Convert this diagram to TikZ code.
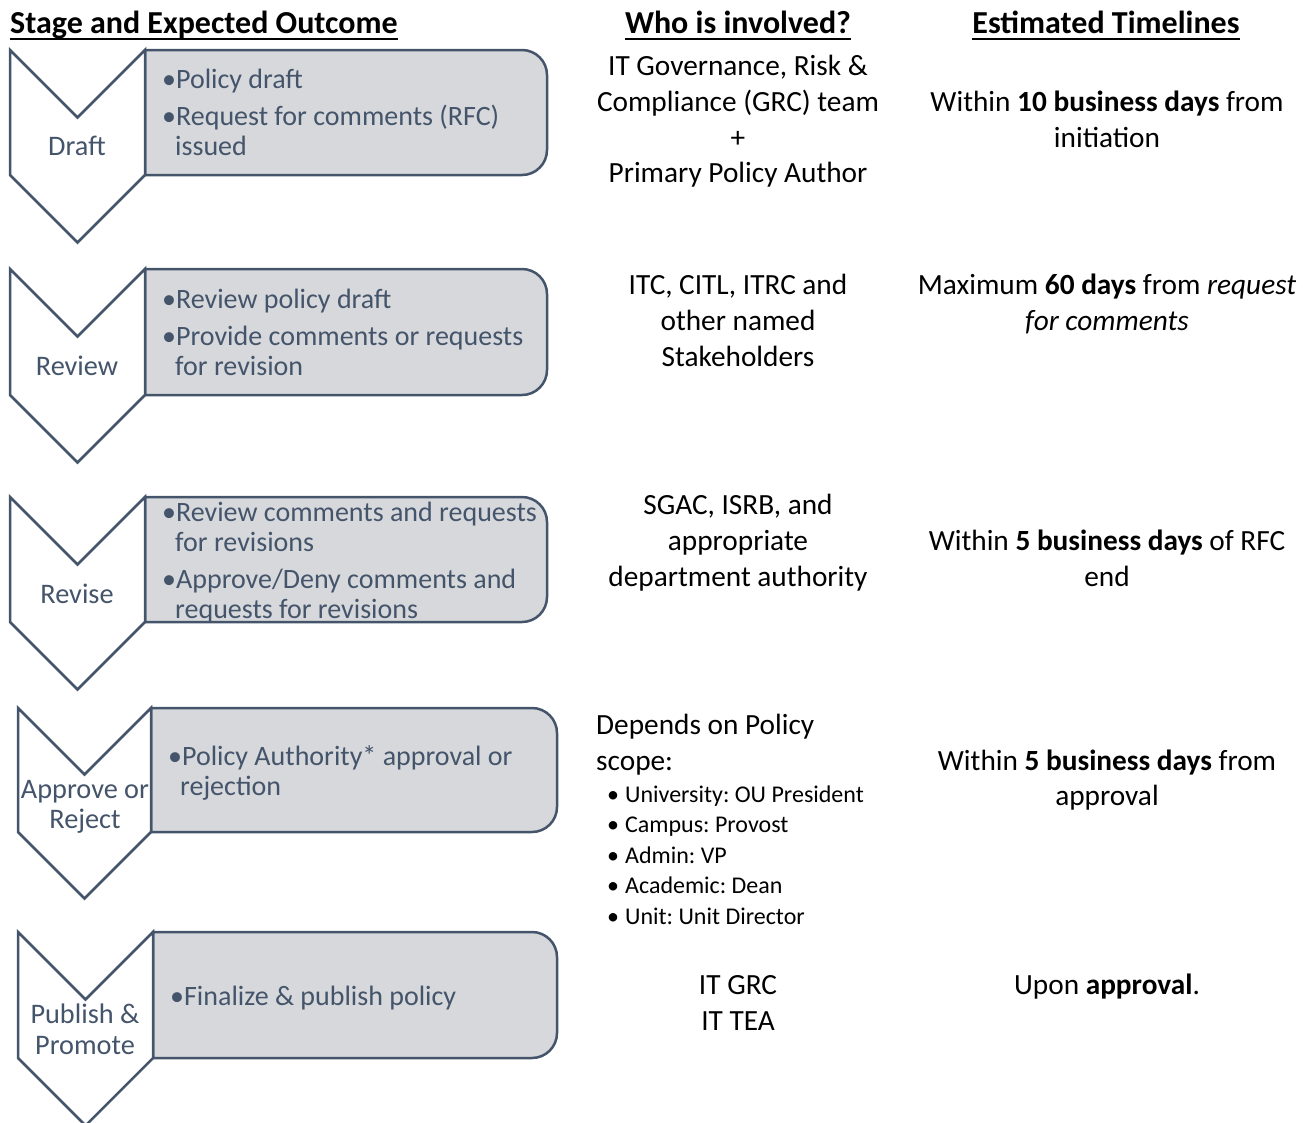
\documentclass[tikz,border=0pt]{standalone}
\usepackage{fontspec}
\setmainfont{Carlito}
\frenchspacing
\definecolor{slate}{HTML}{44546A}
\definecolor{boxgray}{HTML}{D6D8DB}
\newcommand\stagebox[5]{%
  \pgfmathsetmacro\chmid{(#1+#2)/2}%
  \pgfmathsetmacro\chnotch{#4+(#2-#1)/2}%
  \pgfmathsetmacro\chpt{#5+(#2-#1)/2}%
  \draw[bx] (#2,#4) -- ({#3-25},#4) arc[start angle=-90,end angle=0,radius=25]
    -- (#3,{#5-25}) arc[start angle=0,end angle=90,radius=25] -- (#2,#5) -- cycle;
  \draw[chev] (#1,#4) -- (\chmid,\chnotch) -- (#2,#4) -- (#2,#5) -- (\chmid,\chpt) -- (#1,#5) -- cycle;
}
\begin{document}
\begin{tikzpicture}[x=1pt,y=-1pt,
  chev/.style={draw=slate,line width=2.5pt,fill=white,line join=miter},
  bx/.style={draw=slate,line width=2.5pt,fill=boxgray},
  btxt/.style={text=slate,font=\fontsize{28}{30}\selectfont,anchor=base west,inner sep=0},
  ctxt/.style={text=slate,font=\fontsize{28.3}{30}\selectfont,anchor=base,inner sep=0},
  col/.style={font=\fontsize{29.3}{36}\selectfont,anchor=base,inner sep=0},
  colw/.style={font=\fontsize{29.3}{36}\selectfont,anchor=base west,inner sep=0},
  lst/.style={font=\fontsize{24}{30}\selectfont,anchor=base west,inner sep=0},
  hd/.style={font=\bfseries\fontsize{32}{36}\selectfont,inner sep=0},
  ul/.style={line width=1.8pt}]
\clip (0,0) rectangle (1303,1122);
\useasboundingbox (0,0) rectangle (1303,1122);

% headers
\node[hd,anchor=base west] (h1) at (10,33) {Stage and Expected Outcome};
\node[hd,anchor=base] (h2) at (738,33) {Who is involved?};
\node[hd,anchor=base] (h3) at (1106,33) {Estimated Timelines};
\draw[ul] ([yshift=-6pt]h1.base west) -- ([yshift=-6pt]h1.base east);
\draw[ul] ([yshift=-6pt]h2.base west) -- ([yshift=-6pt]h2.base east);
\draw[ul] ([yshift=-6pt]h3.base west) -- ([yshift=-6pt]h3.base east);

% stages
\stagebox{10}{145}{547}{50}{175}
\stagebox{10}{145}{547}{269}{395}
\stagebox{10}{145}{547}{497}{622}
\stagebox{18}{151}{557}{708}{832}
\stagebox{18}{153}{557}{932}{1058}

% chevron labels
\node[ctxt] (s1) at (77,155) {Draft};
\node[ctxt] (s2) at (77,375) {Review};
\node[ctxt] (s3) at (77,603) {Revise};
\node[ctxt] (s4a) at (85,798) {Approve or};
\node[ctxt] (s4b) at (85,828) {Reject};
\node[ctxt] (s5a) at (85,1023) {Publish \&};
\node[ctxt] (s5b) at (85,1054) {Promote};

% box texts
\node[btxt] (d1) at (162,88) {•Policy draft};
\node[btxt] (d2) at (162,125) {•Request for comments (RFC)};
\node[btxt] (d3) at (175,155) {issued};
\node[btxt] (r1) at (162,308) {•Review policy draft};
\node[btxt] (r2) at (162,345) {•Provide comments or requests};
\node[btxt] (r3) at (175,375) {for revision};
\node[btxt] (v1) at (162,521) {•Review comments and requests};
\node[btxt] (v2) at (175,551) {for revisions};
\node[btxt] (v3) at (162,588) {•Approve/Deny comments and};
\node[btxt] (v4) at (175,618) {requests for revisions};
\node[btxt] (a1) at (168,765) {•Policy Authority* approval or};
\node[btxt] (a2) at (180,795) {rejection};
\node[btxt] (p1) at (170,1005) {•Finalize \& publish policy};

% who is involved
\node[col] (w1a) at (738,75) {IT Governance, Risk \&};
\node[col] (w1b) at (738,111) {Compliance (GRC) team};
\node[col] (w1c) at (738,147) {+};
\node[col] (w1d) at (738,182) {Primary Policy Author};
\node[col] (w2a) at (738,294) {ITC, CITL, ITRC and};
\node[col] (w2b) at (738,330) {other named};
\node[col] (w2c) at (738,366) {Stakeholders};
\node[col] (w3a) at (738,514) {SGAC, ISRB, and};
\node[col] (w3b) at (738,550) {appropriate};
\node[col] (w3c) at (738,586) {department authority};
\node[colw] (w4a) at (596,734) {Depends on Policy};
\node[colw] (w4b) at (596,770) {scope:};
\node[lst] (l1) at (607,802) {•\hspace{6pt}University: OU President};
\node[lst] (l2) at (607,832) {•\hspace{6pt}Campus: Provost};
\node[lst] (l3) at (607,863) {•\hspace{6pt}Admin: VP};
\node[lst] (l4) at (607,893) {•\hspace{6pt}Academic: Dean};
\node[lst] (l5) at (607,924) {•\hspace{6pt}Unit: Unit Director};
\node[col] (w5a) at (738,994) {IT GRC};
\node[col] (w5b) at (738,1030) {IT TEA};

% timelines
\node[col] (t1a) at (1107,111) {Within \textbf{10 business days} from};
\node[col] (t1b) at (1107,147) {initiation};
\node[col] (t2a) at (1107,294) {Maximum \textbf{60 days} from \textit{request}};
\node[col] (t2b) at (1107,330) {\textit{for comments}};
\node[col] (t3a) at (1107,550) {Within \textbf{5 business days} of RFC};
\node[col] (t3b) at (1107,586) {end};
\node[col] (t4a) at (1107,770) {Within \textbf{5 business days} from};
\node[col] (t4b) at (1107,805) {approval};
\node[col] (t5a) at (1107,994) {Upon \textbf{approval}.};
\end{tikzpicture}
\end{document}
